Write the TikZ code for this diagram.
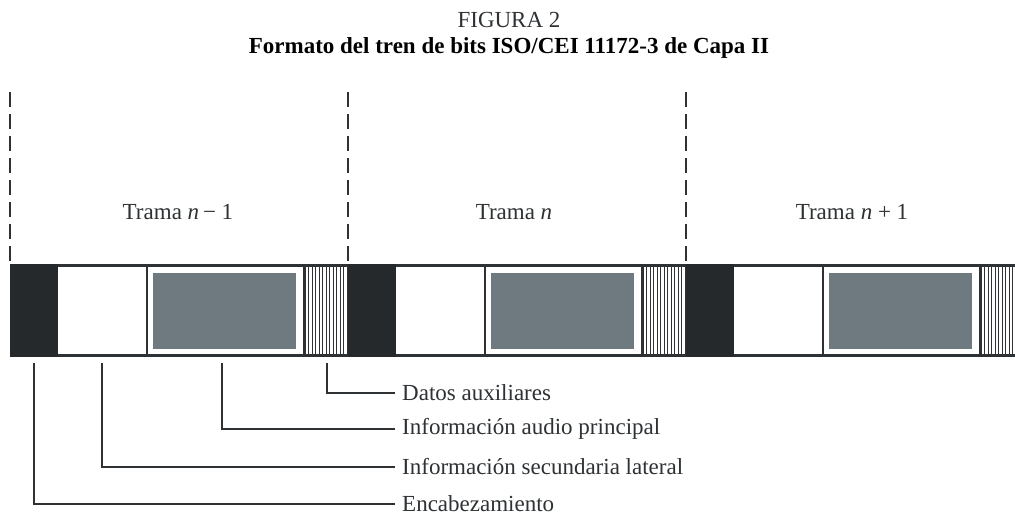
\documentclass[tikz,border=0pt]{standalone}
\usepackage{fontspec}
\setmainfont{Liberation Serif}
\definecolor{hdr}{HTML}{25292B}
\definecolor{aud}{HTML}{6E7980}
\definecolor{ln}{HTML}{2E3234}
\tikzset{
  txt/.style={font=\fontsize{23}{27}\selectfont, inner sep=0pt, text=ln},
  lbl/.style={txt, anchor=west, inner xsep=7pt},
  lead/.style={draw=ln, line width=1.3pt},
  sep/.style={draw=ln, line width=1.1pt, dash pattern=on 15pt off 7pt},
  border/.style={draw=ln, line width=2.6pt},
  hatch/.style={draw=ln, line width=0.9pt}
}
\begin{document}
\begin{tikzpicture}[x=1pt,y=-1pt]
\useasboundingbox (0,0) rectangle (1015,520);
\fill[white] (0,0) rectangle (1015,520);
% titles
\node[txt] (fig) at (509,20) {FIGURA 2};
\node[txt, font=\fontsize{23}{27}\selectfont\bfseries, text=black] (tit) at (509,48) {Formato del tren de bits ISO/CEI 11172-3 de Capa II};
% dashed separators
\foreach \x [count=\i] in {10,348,686}{
  \coordinate (st\i) at (\x,92);
  \coordinate (sb\i) at (\x,264);
  \draw[sep] (st\i) -- (sb\i);
}
\node[txt] (t1) at (178,212) {Trama \textit{n}\,− 1};
\node[txt] (t2) at (514,212) {Trama \textit{n}};
\node[txt] (t3) at (852,212) {Trama \textit{n} + 1};
% bar
\begin{scope}
\clip (0,0) rectangle (1015,520);
\foreach \o in {10,348,686}{
  \begin{scope}[xshift=\o pt]
    % header
    \fill[hdr] (0,264) rectangle (48,357);
    % white box borders
    \draw[border] (48,265.3) -- (136,265.3);
    \draw[border] (48,355.7) -- (136,355.7);
    % audio box
    \draw[border] (137,265.3) rectangle (294.5,355.7);
    \fill[aud] (143,273) rectangle (286,349);
    % hatch
    \draw[border] (295,265.3) -- (338,265.3);
    \draw[border] (295,355.7) -- (338,355.7);
    \foreach \h in {298.5,302,305.5,309,312.5,316,319.5,323,326.5,330,333.5,337}{
      \draw[hatch] (\h,265) -- (\h,356);
    }
  \end{scope}
}
\fill[hdr] (1024,264) rectangle (1072,357);
\end{scope}
% leader lines
\coordinate (p1) at (34,363);
\coordinate (p2) at (102,363);
\coordinate (p3) at (222,363);
\coordinate (p4) at (327,363);
\node[lbl] (l4) at (395,393) {Datos auxiliares};
\node[lbl] (l3) at (395,429) {Información audio principal};
\node[lbl] (l2) at (395,467) {Información secundaria lateral};
\node[lbl] (l1) at (395,504) {Encabezamiento};
\draw[lead] (p4) |- (l4.west);
\draw[lead] (p3) |- (l3.west);
\draw[lead] (p2) |- (l2.west);
\draw[lead] (p1) |- (l1.west);
\end{tikzpicture}
\end{document}
